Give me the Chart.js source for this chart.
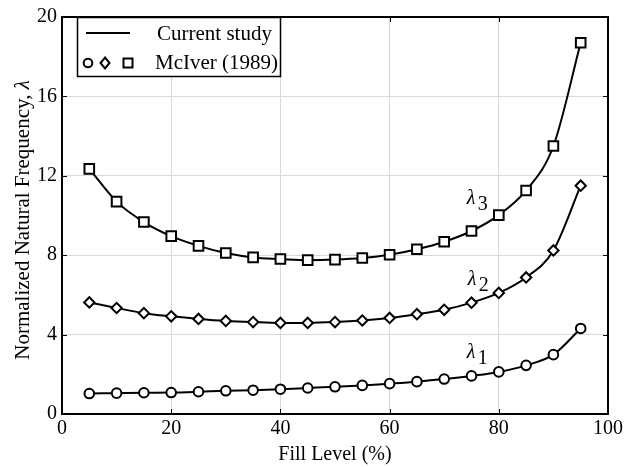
<!DOCTYPE html>
<html>
<head>
<meta charset="utf-8">
<script src="https://cdn.jsdelivr.net/npm/chart.js@4"></script>
<style>
  html, body { margin: 0; padding: 0; background: #fff; }
  #wrap { width: 626px; height: 467px; }
</style>
</head>
<body>
<div id="wrap"><canvas id="chart"></canvas></div>
<script>
const fillLevels = [5, 10, 15, 20, 25, 30, 35, 40, 45, 50, 55, 60, 65, 70, 75, 80, 85, 90, 95];
const lambda1 = [1.03, 1.05, 1.07, 1.08, 1.12, 1.17, 1.2, 1.25, 1.31, 1.37, 1.44, 1.53, 1.63, 1.76, 1.92, 2.12, 2.45, 2.99, 4.31];
const lambda2 = [5.62, 5.34, 5.08, 4.92, 4.79, 4.69, 4.63, 4.59, 4.59, 4.63, 4.71, 4.84, 5.03, 5.25, 5.61, 6.1, 6.88, 8.24, 11.5];
const lambda3 = [12.35, 10.7, 9.67, 8.96, 8.47, 8.11, 7.89, 7.81, 7.75, 7.78, 7.86, 8.02, 8.3, 8.68, 9.22, 10.02, 11.26, 13.5, 18.7];
const xTicks = [0, 20, 40, 60, 80, 100];
const yTicks = [0, 4, 8, 12, 16, 20];
const modeLabels = [
  { n: '1', x: 75.6, y: 2.9 },
  { n: '2', x: 75.8, y: 6.6 },
  { n: '3', x: 75.6, y: 10.7 }
];

const serif = '"Liberation Serif", "DejaVu Serif", serif';

let toPoints = (ys) => fillLevels.map((x, i) => ({ x: x, y: ys[i] }));

let makeSet = (ys, style, radius) => ({
  data: toPoints(ys),
  showLine: true,
  borderColor: '#000',
  borderWidth: 2,
  cubicInterpolationMode: 'monotone',
  pointStyle: style,
  pointRadius: radius,
  pointBorderWidth: 2,
  pointBorderColor: '#000',
  pointBackgroundColor: '#fff'
});

// box, inner ticks, mode labels, legend, y title
const extras = {
  id: 'extras',
  afterDraw(chart) {
    let ctx = chart.ctx,
        a = chart.chartArea,
        xs = chart.scales.x,
        ys = chart.scales.y;
    ctx.save();
    ctx.strokeStyle = '#000';
    ctx.lineWidth = 1;
    xTicks.forEach(t => {
      let px = Math.round(xs.getPixelForValue(t)) + 0.5;
      ctx.beginPath();
      ctx.moveTo(px, a.bottom); ctx.lineTo(px, a.bottom - 5);
      ctx.moveTo(px, a.top); ctx.lineTo(px, a.top + 5);
      ctx.stroke();
    });
    yTicks.forEach(t => {
      let py = Math.round(ys.getPixelForValue(t)) + 0.5;
      ctx.beginPath();
      ctx.moveTo(a.left, py); ctx.lineTo(a.left + 5, py);
      ctx.moveTo(a.right, py); ctx.lineTo(a.right - 5, py);
      ctx.stroke();
    });
    ctx.lineWidth = 2;
    ctx.strokeRect(a.left, a.top, a.right - a.left, a.bottom - a.top);

    // lambda labels
    ctx.fillStyle = '#000';
    ctx.textBaseline = 'alphabetic';
    modeLabels.forEach(m => {
      let px = xs.getPixelForValue(m.x),
          py = ys.getPixelForValue(m.y);
      ctx.font = 'italic 20px ' + serif;
      ctx.textAlign = 'left';
      ctx.fillText('λ', px - 8, py + 2);
      ctx.font = '20px ' + serif;
      ctx.fillText(m.n, px + 3, py + 8);
    });

    // legend
    let lx = 77, ly = 17, lw = 203, lh = 59;
    ctx.fillStyle = '#fff';
    ctx.fillRect(lx, ly, lw, lh);
    ctx.lineWidth = 1.5;
    ctx.strokeRect(lx + 0.5, ly + 0.5, lw, lh);
    ctx.lineWidth = 2;
    ctx.beginPath();
    ctx.moveTo(86, 33); ctx.lineTo(130, 33);
    ctx.stroke();
    ctx.lineWidth = 2;
    ctx.beginPath(); ctx.arc(88, 63, 4.3, 0, Math.PI * 2); ctx.stroke();
    ctx.beginPath();
    ctx.moveTo(105, 57.5); ctx.lineTo(109.5, 63); ctx.lineTo(105, 68.5); ctx.lineTo(100.5, 63); ctx.closePath();
    ctx.stroke();
    ctx.strokeRect(123.5, 58.5, 9, 9);
    ctx.fillStyle = '#000';
    ctx.font = '21px ' + serif;
    ctx.textAlign = 'left';
    ctx.textBaseline = 'middle';
    ctx.fillText('Current study', 157, 34);
    ctx.fillText('McIver (1989)', 155, 63);

    // y title
    ctx.textBaseline = 'alphabetic';
    ctx.translate(29, 220);
    ctx.rotate(-Math.PI / 2);
    let main = 'Normalized Natural Frequency, ';
    ctx.font = '21px ' + serif;
    let w1 = ctx.measureText(main).width;
    ctx.font = 'italic 21px ' + serif;
    let w2 = ctx.measureText('λ').width;
    let sx = -(w1 + w2) / 2;
    ctx.font = '21px ' + serif;
    ctx.fillText(main, sx, 0);
    ctx.font = 'italic 21px ' + serif;
    ctx.fillText('λ', sx + w1, 0);
    ctx.restore();
  }
};

new Chart(document.getElementById('chart'), {
  type: 'scatter',
  data: {
    datasets: [
      makeSet(lambda1, 'circle', 4.8),
      makeSet(lambda2, 'rectRot', 5.2),
      makeSet(lambda3, 'rect', 6.8)
    ]
  },
  options: {
    responsive: true,
    maintainAspectRatio: false,
    animation: false,
    layout: { padding: { top: 8, right: 16, left: 0, bottom: 0 } },
    plugins: { legend: { display: false }, tooltip: { enabled: false } },
    scales: {
      x: {
        type: 'linear',
        min: 0, max: 100,
        afterBuildTicks: s => { s.ticks = xTicks.map(v => ({ value: v })); },
        afterFit: s => { s.height = 53; },
        grid: { color: '#d9d9d9', lineWidth: 1, drawTicks: false },
        border: { display: false },
        ticks: { color: '#000', font: { family: serif, size: 20 }, padding: 3, maxRotation: 0 },
        title: { display: true, text: 'Fill Level (%)', color: '#000', font: { family: serif, size: 20 }, padding: { top: 0, bottom: 0 } }
      },
      y: {
        type: 'linear',
        min: 0, max: 20,
        afterBuildTicks: s => { s.ticks = yTicks.map(v => ({ value: v })); },
        afterFit: s => { s.width = 62; },
        grid: { color: '#d9d9d9', lineWidth: 1, drawTicks: false },
        border: { display: false },
        ticks: { color: '#000', font: { family: serif, size: 20 }, padding: 5 }
      }
    }
  },
  plugins: [extras]
});
</script>
</body>
</html>
